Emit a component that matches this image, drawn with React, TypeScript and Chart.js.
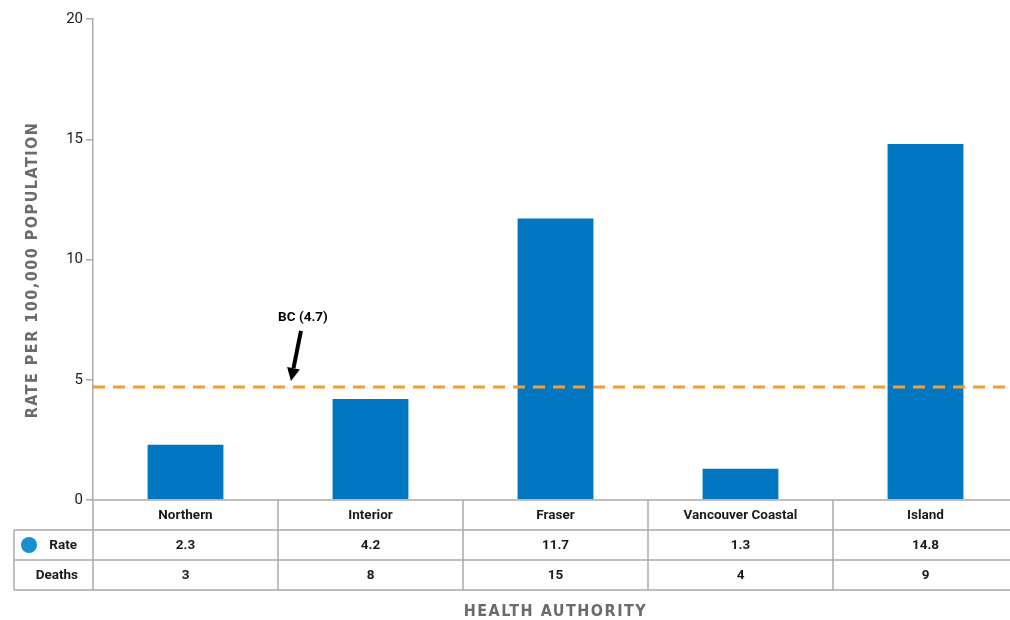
import React, { useEffect, useRef } from "react";
import { Chart, registerables } from "chart.js";

Chart.register(...registerables);

const categories = ["Northern", "Interior", "Fraser", "Vancouver Coastal", "Island"];
const rates = [2.3, 4.2, 11.7, 1.3, 14.8];
const rateLabels = ["2.3", "4.2", "11.7", "1.3", "14.8"];
const deaths = ["3", "8", "15", "4", "9"];
const bcRate = 4.7;
const bcLabel = "BC (4.7)";
const yTitle = "RATE PER 100,000 POPULATION";
const xTitle = "HEALTH AUTHORITY";

const FONT = "Roboto, 'DejaVu Sans Condensed', sans-serif";
const TITLE_FONT = "'DejaVu Sans Condensed', Roboto, sans-serif";
const BAR_COLOR = "#0077c0";
const LINE_GRAY = "#ababab";

const tablePlugin = {
  id: "tablePlugin",
  afterDraw(chart: any) {
    const ctx = chart.ctx as CanvasRenderingContext2D;
    const area = chart.chartArea;
    const xs = chart.scales.x;
    const ys = chart.scales.y;
    const n = categories.length;
    const step = (area.right - area.left) / n;
    const top = area.bottom;
    const rowH = 30;
    const tableLeft = 14;
    const right = chart.width;

    ctx.save();
    // BC dashed line
    const yBC = ys.getPixelForValue(bcRate);
    ctx.strokeStyle = "#f59d32";
    ctx.lineWidth = 3;
    ctx.setLineDash([12, 8]);
    ctx.beginPath();
    ctx.moveTo(area.left, yBC);
    ctx.lineTo(right, yBC);
    ctx.stroke();
    ctx.setLineDash([]);

    // annotation arrow
    const tipX = xs.getPixelForValue(0.57);
    const tipY = yBC - 6;
    const startX = tipX + 10;
    const startY = tipY - 50;
    ctx.strokeStyle = "#000";
    ctx.fillStyle = "#000";
    ctx.lineWidth = 4;
    const ang = Math.atan2(tipY - startY, tipX - startX);
    const headLen = 13;
    const baseX = tipX - headLen * Math.cos(ang);
    const baseY = tipY - headLen * Math.sin(ang);
    ctx.beginPath();
    ctx.moveTo(startX, startY);
    ctx.lineTo(baseX, baseY);
    ctx.stroke();
    ctx.beginPath();
    ctx.moveTo(tipX, tipY);
    ctx.lineTo(baseX + 6.5 * Math.sin(ang), baseY - 6.5 * Math.cos(ang));
    ctx.lineTo(baseX - 6.5 * Math.sin(ang), baseY + 6.5 * Math.cos(ang));
    ctx.closePath();
    ctx.fill();
    ctx.font = `bold 13.5px ${FONT}`;
    ctx.textAlign = "center";
    ctx.textBaseline = "middle";
    ctx.fillText(bcLabel, startX + 2, startY - 13);

    // table lines
    ctx.strokeStyle = LINE_GRAY;
    ctx.lineWidth = 1.5;
    ctx.beginPath();
    ctx.moveTo(area.left, top);
    ctx.lineTo(right, top);
    for (let r = 1; r <= 3; r++) {
      ctx.moveTo(tableLeft, top + r * rowH);
      ctx.lineTo(right, top + r * rowH);
    }
    ctx.moveTo(tableLeft, top + rowH);
    ctx.lineTo(tableLeft, top + 3 * rowH);
    for (let i = 0; i <= n; i++) {
      const x = area.left + i * step;
      ctx.moveTo(x, top);
      ctx.lineTo(x, top + 3 * rowH);
    }
    ctx.stroke();

    // table texts
    ctx.fillStyle = "#1a1a1a";
    ctx.font = `bold 13.5px ${FONT}`;
    ctx.textAlign = "center";
    ctx.textBaseline = "middle";
    categories.forEach((c, i) => {
      const x = xs.getPixelForValue(i);
      ctx.fillText(c, x, top + rowH * 0.5 + 1);
      ctx.fillText(rateLabels[i], x, top + rowH * 1.5 + 1);
      ctx.fillText(deaths[i], x, top + rowH * 2.5 + 1);
    });
    ctx.textAlign = "right";
    ctx.fillText("Rate", area.left - 16, top + rowH * 1.5 + 1);
    ctx.fillText("Deaths", area.left - 15, top + rowH * 2.5 + 1);
    ctx.fillStyle = "#1a8fd0";
    ctx.beginPath();
    ctx.arc(tableLeft + 15, top + rowH * 1.5, 8, 0, Math.PI * 2);
    ctx.fill();

    // axis titles
    ctx.fillStyle = "#6b6b6b";
    ctx.font = `bold 16px ${TITLE_FONT}`;
    (ctx as any).letterSpacing = "1.5px";
    ctx.textAlign = "center";
    ctx.fillText(xTitle, (area.left + area.right) / 2, top + 3 * rowH + 22);
    ctx.save();
    ctx.translate(33, 270);
    ctx.rotate(-Math.PI / 2);
    ctx.fillText(yTitle, 0, 0);
    ctx.restore();
    (ctx as any).letterSpacing = "0px";
    ctx.restore();
  },
};

export default function App() {
  const ref = useRef<HTMLCanvasElement | null>(null);
  useEffect(() => {
    if (!ref.current) return;
    const chart = new Chart(ref.current, {
      type: "bar",
      data: {
        labels: categories,
        datasets: [
          {
            label: "Rate",
            data: rates,
            backgroundColor: BAR_COLOR,
            barPercentage: 0.41,
            categoryPercentage: 1,
          },
        ],
      },
      options: {
        animation: false,
        responsive: false,
        maintainAspectRatio: false,
        layout: { padding: { left: 0, right: 12, top: 19, bottom: 120 } },
        plugins: { legend: { display: false }, tooltip: { enabled: false } },
        scales: {
          x: { display: false },
          y: {
            min: 0,
            max: 20,
            ticks: {
              stepSize: 5,
              color: "#1a1a1a",
              font: { family: FONT, size: 15, weight: "normal" as any },
              padding: 3,
            },
            grid: {
              drawOnChartArea: false,
              drawTicks: true,
              tickLength: 7,
              color: LINE_GRAY,
              lineWidth: 1.5,
            },
            border: { color: LINE_GRAY, width: 1.5 },
            afterFit: (scale: any) => {
              scale.width = 93;
            },
          },
        },
      },
      plugins: [tablePlugin],
    });
    return () => chart.destroy();
  }, []);
  return (
    <div style={{ position: "fixed", left: 0, top: 0, width: 1010, height: 620, overflow: "hidden", background: "#fff" }}>
      <canvas ref={ref} width={1030} height={620} style={{ width: 1030, height: 620 }} />
    </div>
  );
}
